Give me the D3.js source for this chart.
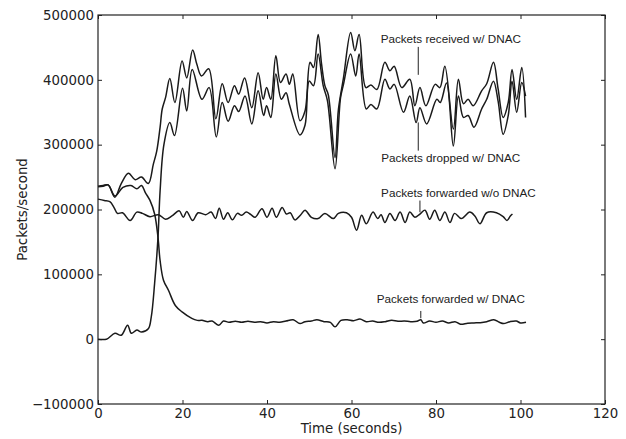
<!DOCTYPE html>
<html>
<head>
<meta charset="utf-8">
<script src="https://d3js.org/d3.v7.min.js"></script>
<style>
body { margin: 0; background: #fff; }
</style>
</head>
<body>
<script>
// time (s) and packets/second
var recvT = [0,1.2,2.4,4,5.5,7.2,8.8,10.3,11.9,13.1,13.9,14.7,15.2,16,17,18.2,19.9,21,22.4,23.4,24.5,26.2,27.9,29.4,30.8,32.3,33.3,34.7,36.4,37.9,39.1,39.9,40.9,42.1,43.2,44.5,45.3,46.1,47.8,49,50.2,51,52.1,52.9,53.7,54.5,56.1,56.9,58.1,59.8,60.8,61.8,63.4,64.6,66,67.9,69.1,70.1,71.9,73.8,75,76.2,77.6,79.8,80.9,82.1,84.1,85.3,86.5,87.6,88.8,90.8,92,93.6,94.7,95.9,97.1,98,99.1,100.3,101.2];
var recvV = [235000,236000,238000,219000,240000,256000,246000,250000,240000,270000,290000,327000,355000,373000,402000,365000,429000,403000,446000,424000,406000,417000,340000,394000,365000,391000,378000,403000,357000,411000,370000,388000,370000,437000,396000,409000,393000,409000,337000,352000,427000,419000,470000,425000,391000,377000,280000,354000,403000,473000,445000,470000,388000,392000,385000,427000,414000,421000,388000,401000,360000,388000,360000,393000,388000,421000,324000,401000,363000,370000,360000,383000,394000,427000,386000,342000,365000,416000,370000,419000,342000];

var dropT = [0,2,4,5.5,7,7.9,9.2,10.3,11.9,12.6,13.4,14.2,14.7,15.6,17,18.1,20,21,22.3,24.6,26.3,28,29.4,30.8,32.3,33.3,34.8,36.4,37.9,39.2,39.9,40.9,42.1,43.4,44.5,45.3,47.8,49,50,51,52.1,53.3,54.3,56.1,57.4,58.1,59.8,61,61.8,63.5,64.6,66,67.9,69.1,70.1,72.3,73.8,75.3,76.2,77.8,80.2,81,82.5,84.1,85.3,86.5,87.6,89,90.8,92,93.6,94.7,95.9,97.1,98,99.1,100.3,101.2];
var dropV = [0,0,9000,6000,21500,9000,14000,11000,16000,34000,86000,157000,229000,300000,334000,314000,387000,352000,416000,370000,388000,312000,365000,336000,360000,351000,375000,332000,383000,345000,360000,342000,409000,370000,380000,362000,315000,330000,398000,391000,440000,391000,368000,263000,372000,393000,440000,406000,440000,355000,362000,355000,401000,386000,393000,350000,375000,334000,357000,332000,370000,365000,395000,298000,375000,342000,345000,327000,355000,370000,398000,367000,316000,345000,398000,350000,396000,375000];

var fwdNoT = [0,1.5,2.8,3.8,4.6,5.8,7.6,9.2,10.5,12.3,14.3,16,17.5,19.2,20.2,21,22.4,23.7,25.5,26.8,27.8,28.7,29.7,30.7,31.8,33,34,35.1,36.2,37.2,38.8,40,41.2,42.2,43.6,44.6,45.5,46.6,48,49,50.5,52.1,53.7,55.7,56.9,58.8,60,61.2,62.4,63.5,65.1,66.2,67,67.9,69.1,70.3,71.5,72.7,73.8,75,76.2,77.4,78.5,79.7,80.9,82.1,83.3,84.4,86,88,89.2,90.4,92,94.3,95.9,96.8,97.6,98.1];
var fwdNoV = [216000,214000,212000,203000,194000,195000,183000,196000,194000,189000,192000,185000,190000,198000,188000,197000,183000,195000,192000,196000,186000,202000,185000,195000,184000,194000,191000,196000,192000,188000,201000,188000,202000,188000,203000,193000,195000,184000,192000,199000,188000,186000,194000,186000,194000,195000,188000,168000,191000,178000,196000,186000,192000,180000,194000,183000,196000,180000,196000,188000,193000,199000,185000,199000,183000,196000,180000,194000,186000,196000,190000,178000,195000,195000,189000,183000,190000,193000];

var fwdT = [0,1.2,2.4,4,5.9,7.8,9.2,10.3,11.2,12.3,13.4,14.2,14.7,15.5,16.7,18.3,19.9,22.2,23.5,24.6,26,27,28.6,29.7,31,32.5,34,35.5,37,38.5,40,41.5,43,44.5,46.2,47.8,49,50.5,51.8,53.5,55,56.1,57.5,59,60.5,62,63.5,65,66.5,68,69.5,71,72.5,74,75.5,76.4,77,78.5,80,81.5,83,84.5,85.8,87.5,89,90.5,92,93.7,95,96,97.5,99,100,101.3];
var fwdV = [236000,237000,238000,221000,234000,237000,232000,237000,226000,214000,193000,157000,121000,91000,75000,52000,42000,32000,29000,29000,27000,28000,21500,28000,26000,27500,26000,27500,26000,27000,25000,27000,26000,28000,30000,24000,27000,28000,30000,27000,26000,19000,29000,30000,28500,31000,27000,28000,26000,27000,29000,27500,28000,27000,27500,30000,25000,28000,26000,28000,25000,27000,23000,24500,25000,25500,27000,30000,26000,24000,27000,28000,25000,26000];

// annotations: label, text centre (t, v), leader line from v1 to v2 at t
var labels = ["Packets received w/ DNAC", "Packets dropped w/ DNAC", "Packets forwarded w/o DNAC", "Packets forwarded w/ DNAC"];
var labelT = [83.5, 83.5, 85.3, 83.5];
var labelV = [457400, 273800, 218900, 56500];
var leadT = [75.8, 75.8, 76.2, 76.4];
var leadV1 = [450800, 334300, 213800, 43500];
var leadV2 = [407700, 290800, 195800, 32300];

var xTicks = [0, 20, 40, 60, 80, 100, 120];
var yTicks = [-100000, 0, 100000, 200000, 300000, 400000, 500000];

var width = 626;
var height = 439;
var mLeft = 98, mRight = 605, mTop = 15, mBottom = 404;

const svg = d3.select("body")
.append("svg")
.attr("width", width)
.attr("height", height)
.style("font-family", "'DejaVu Sans', sans-serif");

var xscale = d3.scaleLinear()
.domain([0, 120])
.range([mLeft, mRight]);

var yscale = d3.scaleLinear()
.domain([-100000, 500000])
.range([mBottom, mTop]);

// inward ticks on all four sides, like old matplotlib
var xAxis = d3.axisBottom(xscale).tickValues(xTicks).tickSize(-4).tickPadding(5).tickFormat(d3.format("d"));
var yAxis = d3.axisLeft(yscale).tickValues(yTicks).tickSize(-4).tickPadding(4).tickFormat(d3.format("d"));
var xTop = d3.axisTop(xscale).tickValues(xTicks).tickSize(-4).tickFormat("");
var yRight = d3.axisRight(yscale).tickValues(yTicks).tickSize(-4).tickFormat("");

function styleAxis(g) {
  g.select(".domain").remove();
  g.selectAll(".tick line").attr("stroke", "#222").attr("stroke-width", 1);
  g.selectAll(".tick text").attr("fill", "#222").style("font-size", "13.33px").style("font-family", "'DejaVu Sans', sans-serif");
}

svg.append("g").attr("transform", "translate(0," + mBottom + ")").call(xAxis).call(styleAxis);
svg.append("g").attr("transform", "translate(" + mLeft + ",0)").call(yAxis).call(styleAxis);
svg.append("g").attr("transform", "translate(0," + mTop + ")").call(xTop).call(styleAxis);
svg.append("g").attr("transform", "translate(" + mRight + ",0)").call(yRight).call(styleAxis);

svg.append("rect")
.attr("x", mLeft)
.attr("y", mTop)
.attr("width", mRight - mLeft)
.attr("height", mBottom - mTop)
.attr("fill", "none")
.attr("stroke", "#222")
.attr("stroke-width", 1.2);

var line = d3.line()
.x(d => xscale(d[0]))
.y(d => yscale(d[1]))
.curve(d3.curveCatmullRom.alpha(0.5));

var series = [[fwdNoT, fwdNoV], [fwdT, fwdV], [dropT, dropV], [recvT, recvV]];

svg.selectAll("path.series")
.data(series)
.enter()
.append("path")
.attr("class", "series")
.attr("d", s => line(d3.zip(s[0], s[1])))
.attr("fill", "none")
.attr("stroke", "#1a1a1a")
.attr("stroke-width", 1.5);

// labels with leader lines
svg.selectAll("line.lead")
.data(labels)
.enter()
.append("line")
.attr("class", "lead")
.attr("x1", (d, i) => xscale(leadT[i]))
.attr("x2", (d, i) => xscale(leadT[i]))
.attr("y1", (d, i) => yscale(leadV1[i]))
.attr("y2", (d, i) => yscale(leadV2[i]))
.attr("stroke", "#222")
.attr("stroke-width", 1);

svg.selectAll("text.lab")
.data(labels)
.enter()
.append("text")
.attr("class", "lab")
.attr("x", (d, i) => xscale(labelT[i]))
.attr("y", (d, i) => yscale(labelV[i]))
.attr("text-anchor", "middle")
.style("font-family", "'Liberation Sans', Arial, sans-serif")
.style("font-size", "11.7px")
.attr("fill", "#222")
.text(d => d);

svg.append("text")
.attr("x", (mLeft + mRight) / 2)
.attr("y", 433)
.attr("text-anchor", "middle")
.style("font-size", "13.33px")
.attr("fill", "#222")
.text("Time (seconds)");

svg.append("text")
.attr("transform", "translate(26.5," + ((mTop + mBottom) / 2) + ") rotate(-90)")
.attr("text-anchor", "middle")
.style("font-size", "13.33px")
.attr("fill", "#222")
.text("Packets/second");
</script>
</body>
</html>
